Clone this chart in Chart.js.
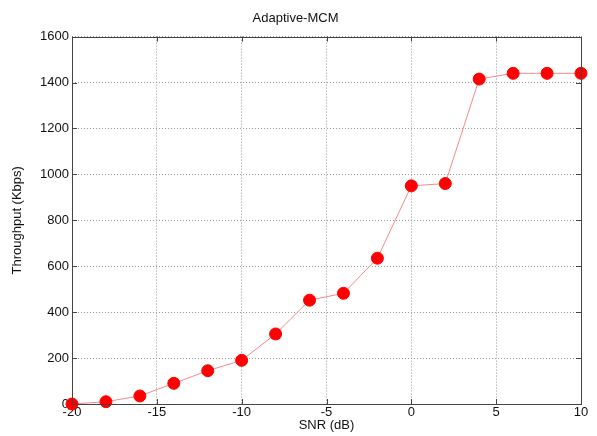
<!DOCTYPE html>
<html>
<head>
<meta charset="utf-8">
<script src="https://cdn.jsdelivr.net/npm/chart.js@4.4.0/dist/chart.umd.min.js"></script>
<style>
  html, body { margin: 0; padding: 0; background: #fff; }
  #wrap { width: 597px; height: 436px; }
</style>
</head>
<body>
<div id="wrap"><canvas id="chart" width="597" height="436"></canvas></div>
<script>
// SNR (dB) and throughput
const snr = [-20, -18, -16, -14, -12, -10, -8, -6, -4, -2, 0, 2, 4, 6, 8, 10];
const throughput = [0, 10, 35, 90, 145, 190, 305, 452, 482, 635, 950, 960, 1415, 1440, 1440, 1440];
const xTicks = [-20, -15, -10, -5, 0, 5, 10];
const yTicks = [0, 200, 400, 600, 800, 1000, 1200, 1400, 1600];

const points = snr.map((x, i) => ({ x: x, y: throughput[i] }));
const font = "'Liberation Sans', Arial, sans-serif";

/* black box round the axes, with small inward ticks like matlab */
const framePlugin = {
	id: 'frame',
	afterDatasetsDraw(chart) {
		const a = chart.chartArea;
		const ctx = chart.ctx;
		const xs = chart.scales.x, ys = chart.scales.y;
		ctx.save();
		ctx.strokeStyle = '#444';
		ctx.lineWidth = 1;
		ctx.strokeRect(Math.round(a.left) + 0.5, Math.round(a.top) + 0.5,
			Math.round(a.right - a.left), Math.round(a.bottom - a.top));
		ctx.beginPath();
		xTicks.forEach(v => {
			const px = Math.round(xs.getPixelForValue(v)) + 0.5;
			ctx.moveTo(px, a.bottom); ctx.lineTo(px, a.bottom - 5);
			ctx.moveTo(px, a.top); ctx.lineTo(px, a.top + 5);
		});
		yTicks.forEach(v => {
			const py = Math.round(ys.getPixelForValue(v)) + 0.5;
			ctx.moveTo(a.left, py); ctx.lineTo(a.left + 5, py);
			ctx.moveTo(a.right, py); ctx.lineTo(a.right - 5, py);
		});
		ctx.stroke();
		ctx.restore();
	}
};

new Chart(document.getElementById('chart'), {
	type: 'line',
	data: {
		datasets: [{
			data: points,
			borderColor: '#f48a8a',
			borderWidth: 1,
			backgroundColor: '#ff0000',
			pointBackgroundColor: '#ff0000',
			pointBorderColor: '#ff0000',
			pointRadius: 6,
			pointHoverRadius: 6,
			tension: 0,
			clip: false
		}]
	},
	options: {
		responsive: false,
		animation: false,
		layout: { padding: { left: 10, right: 16, top: 2, bottom: 3 } },
		plugins: {
			legend: { display: false },
			tooltip: { enabled: false },
			title: {
				display: true,
				text: 'Adaptive-MCM',
				color: '#111',
				font: { family: font, size: 13, weight: 'normal' },
				padding: { top: 9, bottom: 10 }
			}
		},
		scales: {
			x: {
				type: 'linear',
				min: -20,
				max: 10,
				afterBuildTicks: s => { s.ticks = xTicks.map(v => ({ value: v })); },
				afterFit: s => { s.height = 29; },
				ticks: { color: '#111', font: { family: font, size: 13 }, padding: 1, maxRotation: 0,
					callback: v => String(v) },
				grid: { color: '#999', drawTicks: false },
				border: { display: false, dash: [1, 2] },
				title: {
					display: true,
					text: 'SNR (dB)',
					color: '#111',
					font: { family: font, size: 13 },
					padding: { top: 0, bottom: 0 }
				}
			},
			y: {
				min: 0,
				max: 1600,
				afterBuildTicks: s => { s.ticks = yTicks.map(v => ({ value: v })); },
				afterFit: s => { s.width = 62; },
				ticks: { color: '#111', font: { family: font, size: 13 }, padding: 3,
					callback: v => String(v) },
				grid: { color: '#999', drawTicks: false },
				border: { display: false, dash: [1, 2] },
				title: {
					display: true,
					text: 'Throughput (Kbps)',
					color: '#111',
					font: { family: font, size: 13 },
					padding: { top: 0, bottom: 2 }
				}
			}
		}
	},
	plugins: [framePlugin]
});
</script>
</body>
</html>
